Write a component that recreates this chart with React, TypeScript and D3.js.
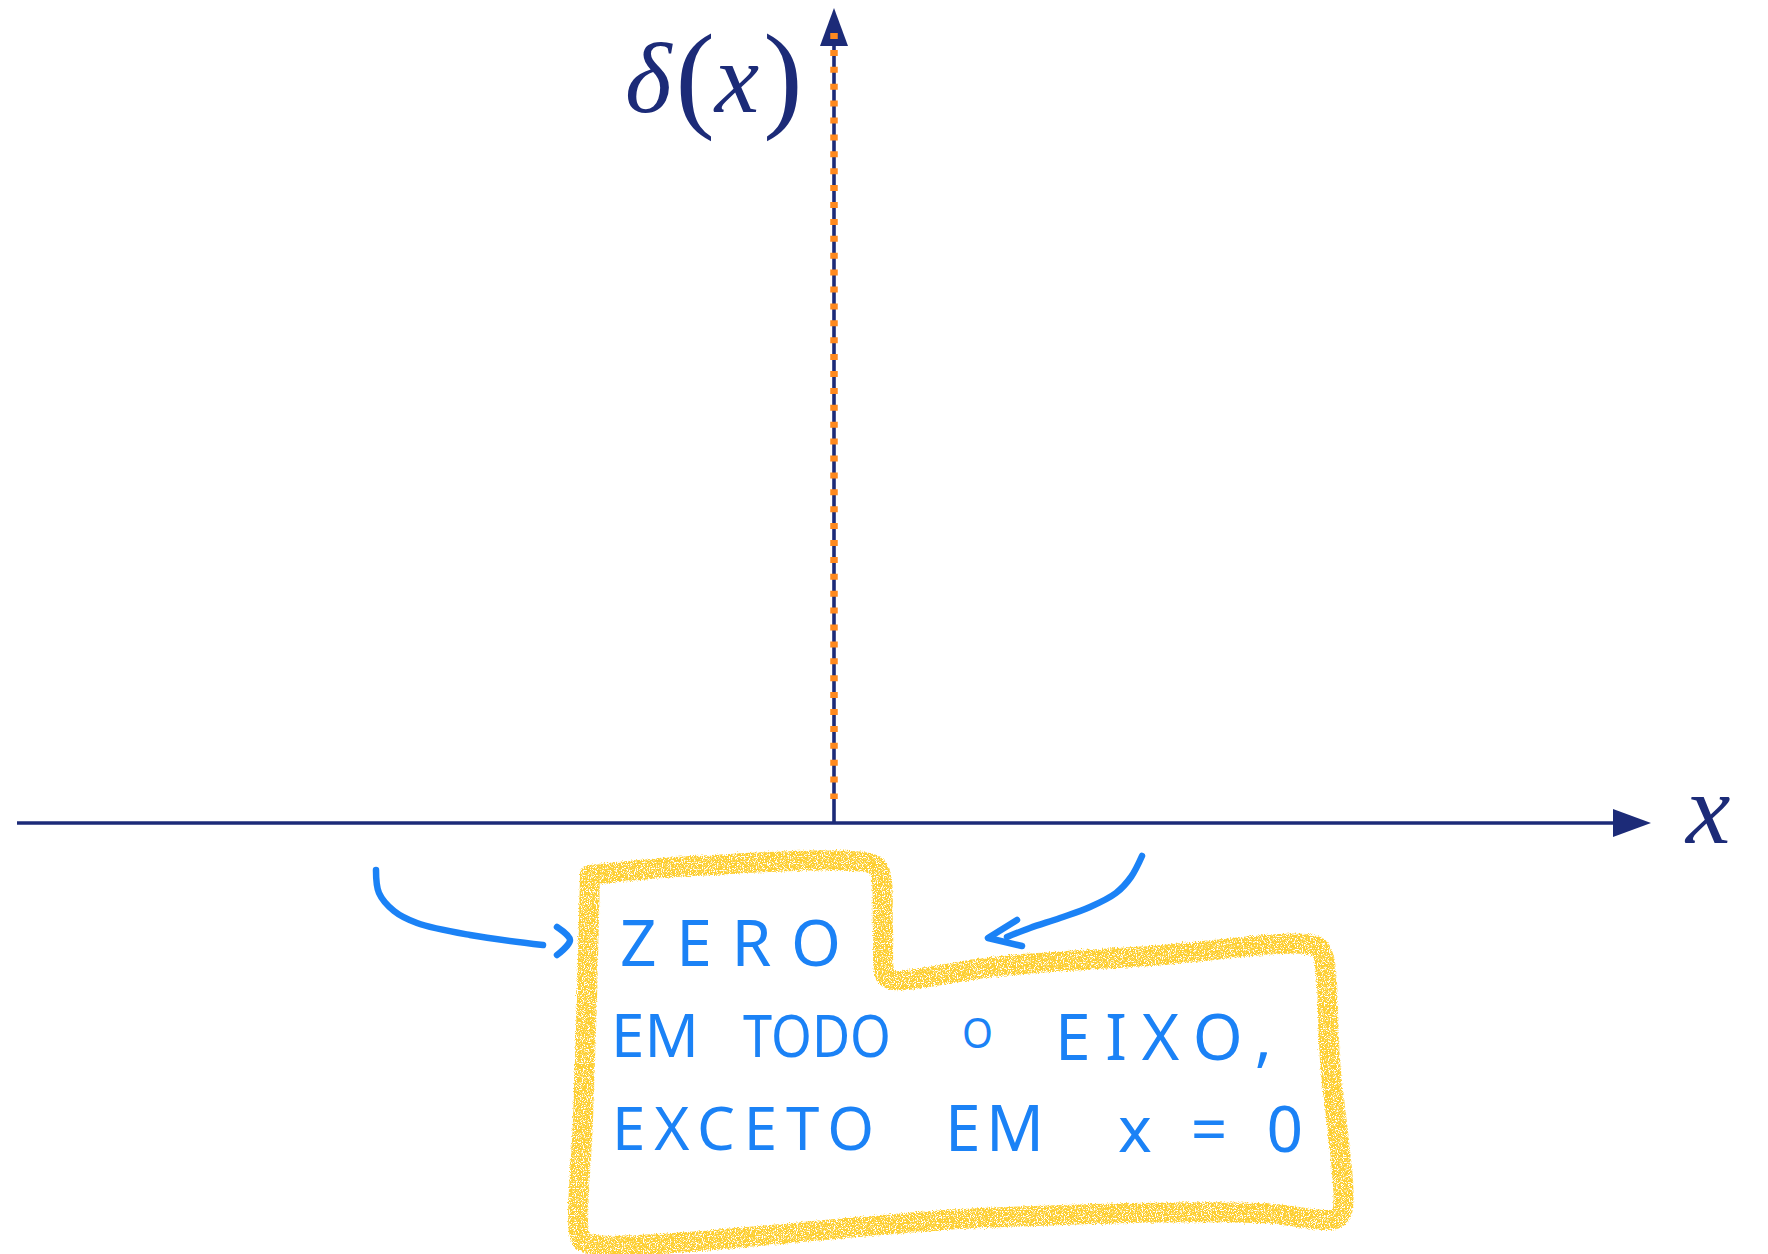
import React from 'react';
import * as d3 from 'd3';

// the delta "function": zero on the whole axis except at x = 0
const xDomain = [-1, 1];
const yDomain = [0, 1];
const impulses = [{ x: 0, height: 1 }];

// handwritten note in the yellow box
const noteLines = [
  ['ZERO'],
  ['EM', 'TODO', 'O', 'EIXO,'],
  ['EXCETO', 'EM', 'x=0'],
];

const W = 1768;
const H = 1254;
const NAVY = '#1c2b78';
const ORANGE = '#ff8a1f';
const BLUE = '#1b82f6';
const YELLOW = '#fdcf33';

// layout of the note (word start / end / baseline)
const wordBoxes = [
  [{ x0: 620, x1: 841, y: 966, fs: 64 }],
  [
    { x0: 611, x1: 699, y: 1057, fs: 60 },
    { x0: 743, x1: 891, y: 1057, fs: 58, squeeze: true },
    { x0: 962, x1: 993, y: 1048, fs: 42, squeeze: true },
    { x0: 1055, x1: 1272, y: 1060, fs: 64 },
  ],
  [
    { x0: 612, x1: 874, y: 1150, fs: 60 },
    { x0: 945, x1: 1044, y: 1151, fs: 64 },
    { x0: 1118, x1: 1303, y: 1152, fs: 64 },
  ],
];

const boxOutline: [number, number][] = [
  [590, 875], [693, 866], [872, 864], [880, 872], [883, 930], [886, 976], [895, 980],
  [1000, 966], [1150, 956], [1316, 946], [1323, 955], [1330, 1060], [1342, 1212],
  [1335, 1219], [1260, 1213], [980, 1218], [586, 1243], [580, 1236], [583, 1120], [587, 1000], [590, 875],
];

const leftArrow: [number, number][] = [[376, 870], [379, 893], [394, 911], [417, 923], [470, 935], [543, 945]];
const leftHead: [number, number][] = [[557, 927], [570, 940], [557, 955]];
const rightArrow: [number, number][] = [[1142, 856], [1131, 877], [1116, 893], [1090, 907], [1060, 918], [1030, 928], [1007, 937]];
const rightHead: [number, number][] = [[1017, 920], [988, 938], [1022, 946]];

export default function App() {
  const x = d3.scaleLinear().domain(xDomain).range([17, 1651]);
  const y = d3.scaleLinear().domain(yDomain).range([823, 36]);

  const smooth = d3.line().curve(d3.curveCatmullRom.alpha(0.5));
  const straight = d3.line();

  const x0 = x(0);
  const y0 = y(0);
  const axisEnd = x(xDomain[1]);

  return (
    <svg width={W} height={H} style={{ position: 'absolute', left: 0, top: 0, background: '#fff' }}>
      <defs>
        <filter id="crayon" x="-5%" y="-5%" width="110%" height="110%">
          <feTurbulence type="fractalNoise" baseFrequency="0.85" numOctaves="2" seed="4" result="noise" />
          <feDisplacementMap in="SourceGraphic" in2="noise" scale="5" xChannelSelector="R" yChannelSelector="G" result="rough" />
          <feColorMatrix in="noise" type="matrix"
            values="0 0 0 0 0  0 0 0 0 0  0 0 0 0 0  7 0 0 0 -2.4" result="mask" />
          <feComposite in="rough" in2="mask" operator="in" />
        </filter>
      </defs>

      {/* x axis */}
      <line x1={17} y1={y0} x2={axisEnd - 38} y2={y0} stroke={NAVY} strokeWidth={3.6} />
      <path d={`M${axisEnd},${y0}L${axisEnd - 38},${y0 - 14}L${axisEnd - 38},${y0 + 14}Z`} fill={NAVY} />
      <text x={1686} y={843} fontFamily="Liberation Serif" fontStyle="italic" fontSize={100} fill={NAVY}>x</text>

      {/* y axis */}
      <line x1={x0} y1={y0} x2={x0} y2={44} stroke={NAVY} strokeWidth={3.6} />
      <path d={`M${x0},8L${x0 - 14},46L${x0 + 14},46Z`} fill={NAVY} />
      <text x={625} y={112} fontFamily="Liberation Serif" fontSize={100} fill={NAVY}>
        <tspan fontStyle="italic">δ</tspan>
        <tspan dx={4} fontSize={118} dy={4}>(</tspan>
        <tspan fontStyle="italic" fontSize={100} dy={-4}>x</tspan>
        <tspan dx={4} fontSize={118} dy={4}>)</tspan>
      </text>

      {/* the impulse */}
      {impulses.map(d => (
        <line key={d.x} x1={x(d.x)} x2={x(d.x)} y1={y(d.height) - 3} y2={y0 - 24}
          stroke={ORANGE} strokeWidth={7.5} strokeDasharray="6 10.9" />
      ))}

      {/* yellow crayon box */}
      <path d={smooth(boxOutline) || ''} fill="none" stroke={YELLOW} strokeWidth={20}
        strokeLinejoin="round" strokeLinecap="round" filter="url(#crayon)" />

      {/* pointer arrows */}
      <g fill="none" stroke={BLUE} strokeWidth={6.5} strokeLinecap="round" strokeLinejoin="round">
        <path d={smooth(leftArrow) || ''} />
        <path d={smooth(leftHead) || ''} />
        <path d={smooth(rightArrow) || ''} />
        <path d={straight(rightHead) || ''} />
      </g>

      {/* note text */}
      {noteLines.map((words, i) => words.map((w, j) => {
        const b = wordBoxes[i][j];
        return (
          <text key={`${i}-${j}`} x={b.x0} y={b.y} fontFamily="Noto Sans" fontSize={b.fs}
            fill={BLUE} textLength={b.x1 - b.x0} lengthAdjust={b.squeeze ? 'spacingAndGlyphs' : 'spacing'}>
            {w}
          </text>
        );
      }))}
    </svg>
  );
}
